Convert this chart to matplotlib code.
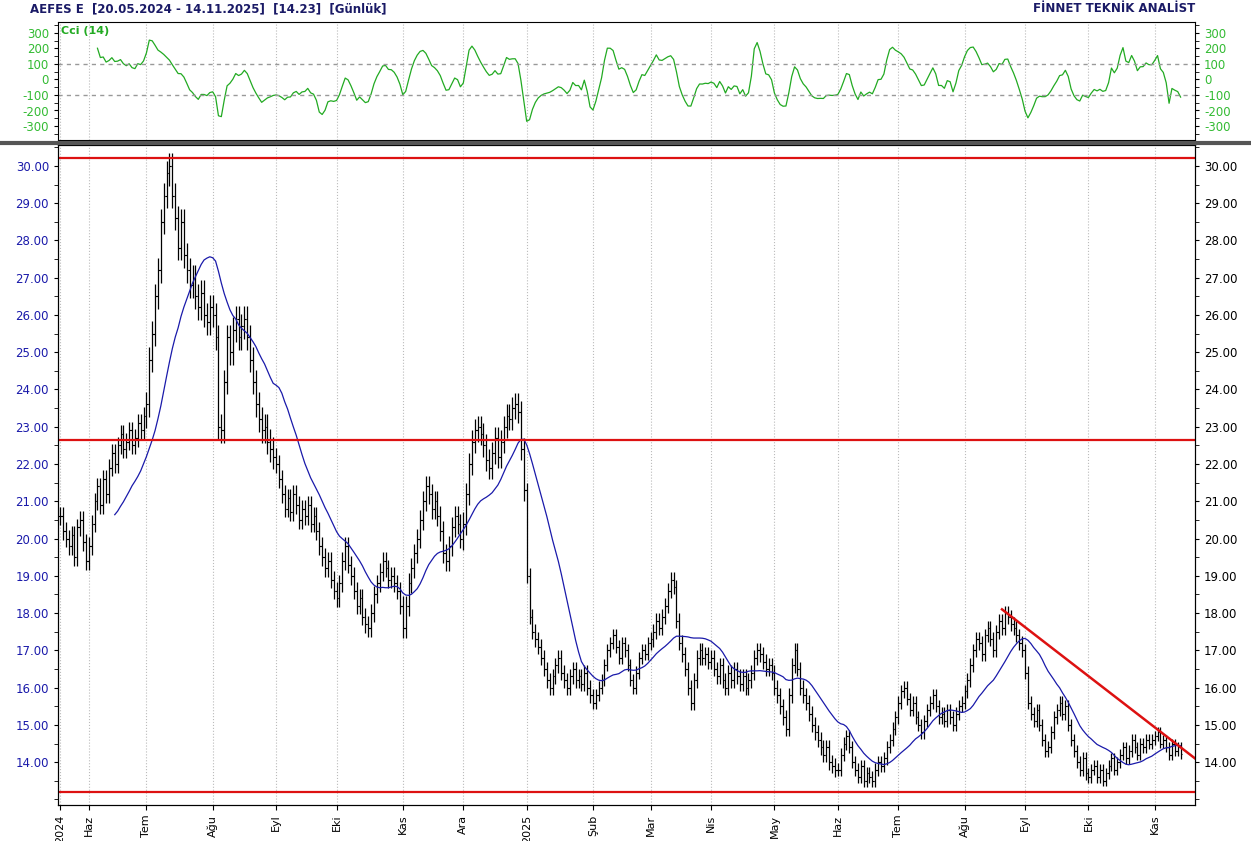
import numpy as np
import pandas as pd
import matplotlib
matplotlib.use("Agg")
import matplotlib.pyplot as plt
from matplotlib.ticker import MultipleLocator

plt.rcParams["axes.unicode_minus"] = False

# daily closes, 20.05.2024 - 14.11.2025
closes = [
    # May 24
    20.6, 20.2, 20.0, 19.8, 20.1, 19.5, 20.3, 20.5, 19.9, 19.4,
    # Jun
    19.8, 20.4, 21.0, 21.4, 20.9, 21.6, 21.2, 21.9, 22.3, 22.0, 22.5, 22.8, 22.4, 22.6, 22.9, 22.5, 22.7, 23.1, 22.9, 23.3,
    # Jul
    23.6, 24.8, 25.5, 26.5, 27.2, 28.5, 29.2, 29.8, 30.0, 29.2, 28.6, 27.8, 28.5, 27.6, 27.2, 26.8, 27.0, 26.5, 26.2, 26.6, 26.0, 25.8, 26.2,
    # Aug
    26.0, 25.4, 23.0, 22.9, 24.2, 25.4, 25.0, 25.6, 25.9, 25.4, 25.7, 25.9, 25.4, 24.8, 24.2, 23.6, 23.2, 22.9, 23.0, 22.6, 22.4, 22.2,
    # Sep
    22.0, 21.6, 21.2, 20.8, 21.1, 20.7, 21.2, 20.9, 20.5, 20.8, 20.6, 20.9, 20.4, 20.6, 20.2, 19.8, 19.5, 19.2, 19.4, 18.9, 18.6,
    # Oct
    18.4, 18.8, 19.4, 19.8, 19.3, 19.0, 18.6, 18.2, 18.4, 17.9, 17.7, 17.6, 18.0, 18.5, 18.8, 19.1, 19.4, 19.2, 18.9, 19.0, 18.8, 18.6, 18.2,
    # Nov
    17.6, 18.2, 18.8, 19.2, 19.6, 20.0, 20.5, 21.0, 21.4, 21.2, 20.8, 21.0, 20.6, 20.2, 19.6, 19.4, 19.8, 20.3, 20.6, 20.4, 20.0,
    # Dec
    20.4, 21.2, 22.0, 22.6, 22.9, 23.0, 22.8, 22.5, 22.1, 21.9, 22.3, 22.7, 22.2, 22.6, 23.0, 23.3, 23.2, 23.5, 23.6, 23.4, 22.4, 21.3,
    # Jan 25
    19.0, 17.9, 17.5, 17.3, 17.1, 16.8, 16.5, 16.2, 16.0, 16.3, 16.6, 16.8, 16.4, 16.2, 16.0, 16.3, 16.5, 16.2, 16.3, 16.1, 16.4, 16.0, 15.8,
    # Feb
    15.6, 15.8, 16.0, 16.2, 16.6, 17.0, 17.2, 17.4, 17.1, 16.8, 17.2, 17.0, 16.6, 16.2, 16.0, 16.4, 16.8, 17.0, 16.9, 17.2,
    # Mar
    17.3, 17.5, 17.8, 17.6, 17.9, 18.2, 18.6, 18.9, 18.7, 17.8, 17.2, 16.9, 16.5, 16.0, 15.6, 16.2, 16.8, 17.0, 16.8, 16.9, 16.7,
    # Apr
    16.8, 16.5, 16.3, 16.6, 16.2, 16.0, 16.4, 16.2, 16.5, 16.3, 16.1, 16.3, 16.0, 16.2, 16.4, 16.8, 17.0, 16.9, 16.7, 16.5, 16.6, 16.4,
    # May
    16.0, 15.8, 15.5, 15.2, 14.9, 15.8, 16.6, 17.0, 16.5, 16.0, 15.8, 15.6, 15.3, 15.0, 14.8, 14.6, 14.4, 14.2, 14.4, 14.0, 13.9, 13.8,
    # Jun
    13.8, 14.2, 14.5, 14.7, 14.4, 14.0, 13.8, 13.6, 13.9, 13.5, 13.7, 13.6, 13.5, 13.8, 14.0, 13.9, 14.1, 14.4, 14.6, 14.9, 15.2,
    # Jul
    15.6, 15.9, 16.0, 15.7, 15.4, 15.6, 15.2, 15.0, 14.8, 15.1, 15.4, 15.6, 15.8, 15.5, 15.2, 15.3, 15.1, 15.4, 15.2, 15.0, 15.3, 15.5, 15.6,
    # Aug
    15.9, 16.2, 16.6, 17.0, 17.3, 17.2, 16.9, 17.4, 17.6, 17.3, 17.0, 17.5, 17.8, 17.6, 18.0, 17.9, 17.7, 17.6, 17.4, 17.2, 17.0,
    # Sep
    16.4, 15.6, 15.3, 15.1, 15.4, 15.0, 14.6, 14.3, 14.4, 14.8, 15.2, 15.4, 15.6, 15.3, 15.5, 15.0, 14.6, 14.3, 14.0, 13.8, 14.1, 13.7,
    # Oct
    13.6, 13.8, 13.9, 13.6, 13.8, 13.5, 13.7, 13.9, 14.1, 13.8, 14.0, 14.2, 14.4, 14.1, 14.3, 14.6, 14.4, 14.2, 14.5, 14.4, 14.6, 14.5, 14.6,
    # Nov
    14.7, 14.8, 14.5, 14.6, 14.4, 14.2, 14.5, 14.3, 14.4, 14.23,
]
# typical bar range per month
month_ranges = [0.7, 0.7, 1.0, 1.0, 0.7, 0.7, 0.8, 0.9, 0.6, 0.5, 0.6, 0.6, 0.6, 0.5, 0.5, 0.55, 0.5, 0.45, 0.4]
hlines = [30.2, 22.65, 13.2]
trend_start = ("2025-08-20", 18.1)
trend_end_value = 14.1

dates = pd.bdate_range("2024-05-20", "2025-11-14")[:len(closes)]
close = pd.Series(closes, index=dates)
prev = close.shift(1).fillna(close.iloc[0])
month_key = dates.to_period("M")
rng_map = dict(zip(month_key.unique(), month_ranges))
rng = np.array([rng_map[m] for m in month_key])
high = np.maximum(prev.values, close.values) + rng / 3
low = np.minimum(prev.values, close.values) - rng / 3
x = np.arange(len(closes))

sma = close.rolling(20).mean()
tp = pd.Series((high + low + close.values) / 3)
ma = tp.rolling(14).mean()
md = tp.rolling(14).apply(lambda v: np.mean(np.abs(v - v.mean())), raw=True)
cci = (tp - ma) / (0.015 * md)

fig = plt.figure(figsize=(12.51, 8.41), dpi=100)
W, H = 1251, 841
ax1 = fig.add_axes([58 / W, 1 - 140 / H, (1195 - 58) / W, 118 / H])
ax2 = fig.add_axes([58 / W, 1 - 805 / H, (1195 - 58) / W, 660 / H])

xlim = (-0.7, 394)
month_starts = [0] + [i for i in range(1, len(dates)) if dates[i].month != dates[i - 1].month]
tr = {1: "2025", 2: "Şub", 3: "Mar", 4: "Nis", 5: "May", 6: "Haz", 7: "Tem", 8: "Ağu",
      9: "Eyl", 10: "Eki", 11: "Kas", 12: "Ara"}
mlabels = ["2024"] + [tr[dates[i].month] for i in month_starts[1:]]

# CCI panel
ax1.plot(x, cci, color="#22aa22", lw=0.9)
for lv in (100, -100):
    ax1.axhline(lv, color="#999999", ls=(0, (3, 3)), lw=1)
ax1.set_ylim(-390, 370)
ax1.set_xlim(*xlim)
ax1.set_yticks([-300, -200, -100, 0, 100, 200, 300])
ax1.yaxis.set_minor_locator(MultipleLocator(50))
ax1.tick_params(axis="y", which="both", labelsize=8.5, colors="#33bb33", labelright=True, right=True, length=3)
ax1.tick_params(axis="y", which="both", color="black")
ax1.set_xticks(month_starts)
ax1.set_xticklabels([])
ax1.tick_params(axis="x", length=0)
ax1.grid(axis="x", color="#bbbbbb", ls=":", lw=0.8)
ax1.text(0.003, 0.97, "Cci (14)", transform=ax1.transAxes, color="#22aa22", fontsize=8,
         fontweight="bold", va="top")

# price panel
ax2.vlines(x, low, high, color="black", lw=0.9)
ax2.hlines(prev.values, x - 0.6, x, color="black", lw=0.8)
ax2.hlines(close.values, x, x + 0.6, color="black", lw=0.8)
ax2.plot(x, sma.values, color="#1a1aaa", lw=0.9)
for lv in hlines:
    ax2.axhline(lv, color="#dd1111", lw=1.6)
i0 = dates.get_indexer([pd.Timestamp(trend_start[0])])[0]
ax2.plot([i0, xlim[1]], [trend_start[1], trend_end_value], color="#dd1111", lw=1.8)
ax2.set_xlim(*xlim)
ax2.set_ylim(12.85, 30.56)
yt = np.arange(14, 31, 1)
ax2.set_yticks(yt)
ax2.set_yticklabels([f"{v:.2f}" for v in yt])
ax2.yaxis.set_minor_locator(MultipleLocator(0.5))
ax2.tick_params(axis="y", which="both", labelsize=8.5, labelcolor="#1a1aaa", length=3)
ax2.set_xticks(month_starts)
ax2.set_xticklabels(mlabels, rotation=90, fontsize=8)
ax2.grid(axis="x", color="#bbbbbb", ls=":", lw=0.8)

axr = ax2.twinx()
axr.set_ylim(ax2.get_ylim())
axr.set_yticks(yt)
axr.set_yticklabels([f"{v:.2f}" for v in yt])
axr.yaxis.set_minor_locator(MultipleLocator(0.5))
axr.tick_params(axis="y", which="both", labelsize=8.5, labelcolor="black", length=3)

# separator between panels
fig.add_artist(plt.Line2D([0, 1], [1 - 142.5 / H] * 2, color="#555555", lw=3))

fig.text(30 / W, 1 - 9 / H, "AEFES E  [20.05.2024 - 14.11.2025]  [14.23]  [Günlük]",
         color="#1a1a66", fontsize=8.5, va="center", fontweight="bold")
fig.text(1195 / W, 1 - 9 / H, "FİNNET TEKNİK ANALİST", color="#1a1a66", fontsize=8.5,
         va="center", ha="right", fontweight="bold")

fig.savefig("out.png", dpi=100)
